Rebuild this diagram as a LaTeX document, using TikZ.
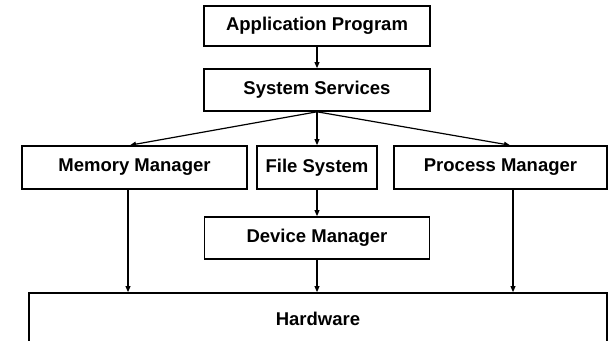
\documentclass[tikz,border=0pt]{standalone}
\usepackage{fontspec}
\setsansfont{Liberation Sans}
\usetikzlibrary{arrows.meta, positioning}
\tikzset{
  box/.style={rectangle, draw, line width=0.8pt, minimum height=21pt,
    align=center, inner sep=0pt, font=\sffamily\bfseries\fontsize{9.25}{11}\selectfont},
  arr/.style={-{Triangle[length=3pt, width=2.4pt]}, line width=0.6pt},
}
\begin{document}
\begin{tikzpicture}[x=0.5pt, y=-0.5pt]
  \useasboundingbox (0,0) rectangle (608,341);
  \node[box, minimum width=113pt, minimum height=20pt] (app) at (317,26) {Application Program};
  \node[box, below=10.7pt of app, minimum width=113pt] (ss) {System Services};
  \node[box, below=16.7pt of ss, minimum width=60pt, minimum height=21.5pt] (fs) {File System};
  \node[box, left=4.2pt of fs, minimum width=112.5pt, minimum height=21.5pt] (mm) {Memory Manager};
  \node[box, right=7.7pt of fs, minimum width=106.5pt, minimum height=21.5pt] (pm) {Process Manager};
  \node[box, below=13.2pt of fs, minimum width=112.5pt] (dm) {Device Manager};
  \node[box, minimum width=289pt, minimum height=26pt] (hw) at (318,319) {Hardware};

  \draw[arr] (app) -- (ss);
  \draw[arr] (ss.south) -- ([xshift=-2.25pt]mm.north);
  \draw[arr] (ss) -- (fs);
  \draw[arr] (ss.south) -- ([xshift=4.75pt]pm.north);
  \draw[arr] (fs) -- (dm);
  \draw[arr] ([xshift=-3.25pt]mm.south) -- ([xshift=-3.25pt]mm.south |- hw.north);
  \draw[arr] (dm) -- (dm |- hw.north);
  \draw[arr] ([xshift=6.25pt]pm.south) -- ([xshift=6.25pt]pm.south |- hw.north);
\end{tikzpicture}
\end{document}
